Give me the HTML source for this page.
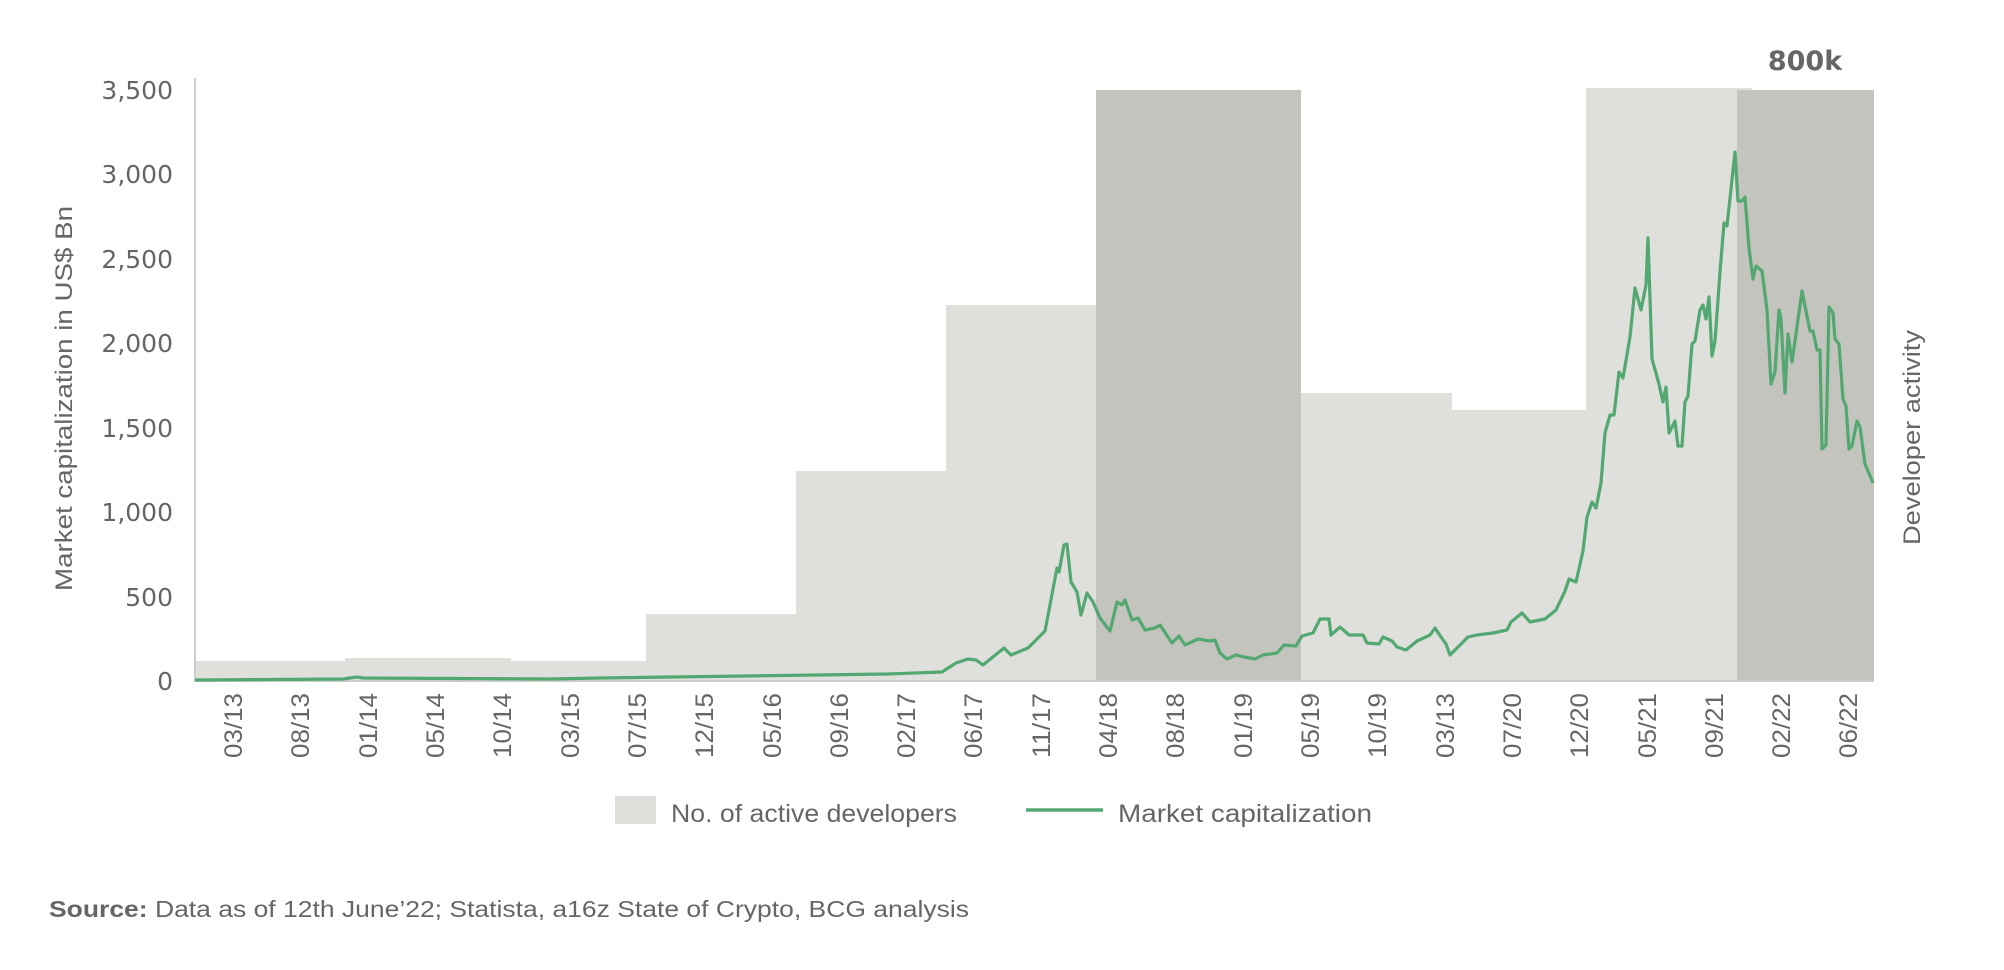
<!DOCTYPE html>
<html><head><meta charset="utf-8"><style>
html,body{margin:0;padding:0;background:#fff;}
svg{display:block;}
text{font-family:"Liberation Sans",sans-serif;fill:#666;}
</style></head><body>
<svg width="2004" height="970" viewBox="0 0 2004 970" xmlns="http://www.w3.org/2000/svg">
<g fill="#dfdfdc">
<rect x="195" y="661" width="150" height="20"/>
<rect x="345" y="658" width="166" height="23"/>
<rect x="511" y="661" width="135" height="20"/>
<rect x="646" y="614" width="150" height="67"/>
<rect x="796" y="471" width="150" height="210"/>
<rect x="946" y="305" width="150" height="376"/>
<rect x="1301" y="393" width="151" height="288"/>
<rect x="1452" y="410" width="134" height="271"/>
<rect x="1586" y="88" width="166" height="593"/>
</g>
<g fill="#c4c4bf">
<rect x="1096" y="90" width="205" height="591"/>
<rect x="1737" y="90" width="137" height="591"/>
</g>
<line x1="195" y1="78" x2="195" y2="682" stroke="#ccc" stroke-width="2"/>
<line x1="195" y1="681" x2="1874" y2="681" stroke="#ccc" stroke-width="2"/>
<polyline fill="none" stroke="#52a870" stroke-width="3.2" stroke-linejoin="round" points="
195,680 343,679 357,677 363,678 550,679 600,678 887,674 942,672 956,663 968,659 976,660 983,665 1004,648 1011,655 1028,648 1045,631 1057,568 1059,572 1064,545 1067,544 1071,582 1077,592 1081,615 1087,593 1093,602 1100,618 1110,631 1117,602 1122,605 1125,600 1132,620 1138,618 1145,630 1155,628 1160,625 1172,643 1179,636 1185,645 1198,639 1210,641 1215,640 1220,653 1227,659 1236,655 1244,657 1255,659 1263,655 1277,653 1284,645 1296,646 1302,636 1313,633 1320,619 1329,619 1331,635 1340,627 1349,635 1363,635 1367,643 1379,644 1383,637 1392,641 1397,647 1406,650 1417,641 1430,635 1435,628 1441,637 1446,644 1450,655 1455,650 1468,637 1477,635 1493,633 1507,630 1511,622 1522,613 1530,622 1545,619 1556,610 1565,591 1569,579 1576,582 1583,551 1587,517 1592,502 1596,508 1601,483 1605,433 1610,415 1614,415 1619,372 1623,378 1630,337 1635,288 1641,310 1646,285 1648,238 1652,359 1659,384 1663,402 1666,387 1669,433 1675,421 1678,446 1682,446 1685,402 1688,396 1692,344 1695,341 1700,310 1703,305 1706,319 1709,297 1712,356 1715,341 1720,272 1724,223 1727,226 1735,152 1738,201 1742,201 1745,197 1749,248 1753,279 1756,266 1762,271 1767,310 1771,384 1775,372 1779,310 1781,319 1785,393 1788,334 1792,362 1796,334 1802,291 1810,331 1813,331 1817,350 1820,350 1822,449 1826,445 1829,307 1833,313 1835,339 1839,344 1843,399 1846,406 1849,449 1852,446 1857,421 1860,427 1865,464 1873,483"/>
<g font-size="25" text-anchor="end">
<text x="173" y="99" style="font-family:'DejaVu Sans',sans-serif">3,500</text>
<text x="173" y="183" style="font-family:'DejaVu Sans',sans-serif">3,000</text>
<text x="173" y="268" style="font-family:'DejaVu Sans',sans-serif">2,500</text>
<text x="173" y="352" style="font-family:'DejaVu Sans',sans-serif">2,000</text>
<text x="173" y="437" style="font-family:'DejaVu Sans',sans-serif">1,500</text>
<text x="173" y="521" style="font-family:'DejaVu Sans',sans-serif">1,000</text>
<text x="173" y="606" style="font-family:'DejaVu Sans',sans-serif">500</text>
<text x="173" y="690" style="font-family:'DejaVu Sans',sans-serif">0</text>
</g>
<g font-size="25">
<text transform="translate(242,758) rotate(-90)" textLength="65" lengthAdjust="spacingAndGlyphs">03/13</text>
<text transform="translate(309,758) rotate(-90)" textLength="65" lengthAdjust="spacingAndGlyphs">08/13</text>
<text transform="translate(377,758) rotate(-90)" textLength="65" lengthAdjust="spacingAndGlyphs">01/14</text>
<text transform="translate(444,758) rotate(-90)" textLength="65" lengthAdjust="spacingAndGlyphs">05/14</text>
<text transform="translate(511,758) rotate(-90)" textLength="65" lengthAdjust="spacingAndGlyphs">10/14</text>
<text transform="translate(579,758) rotate(-90)" textLength="65" lengthAdjust="spacingAndGlyphs">03/15</text>
<text transform="translate(646,758) rotate(-90)" textLength="65" lengthAdjust="spacingAndGlyphs">07/15</text>
<text transform="translate(713,758) rotate(-90)" textLength="65" lengthAdjust="spacingAndGlyphs">12/15</text>
<text transform="translate(781,758) rotate(-90)" textLength="65" lengthAdjust="spacingAndGlyphs">05/16</text>
<text transform="translate(848,758) rotate(-90)" textLength="65" lengthAdjust="spacingAndGlyphs">09/16</text>
<text transform="translate(915,758) rotate(-90)" textLength="65" lengthAdjust="spacingAndGlyphs">02/17</text>
<text transform="translate(982,758) rotate(-90)" textLength="65" lengthAdjust="spacingAndGlyphs">06/17</text>
<text transform="translate(1050,758) rotate(-90)" textLength="65" lengthAdjust="spacingAndGlyphs">11/17</text>
<text transform="translate(1117,758) rotate(-90)" textLength="65" lengthAdjust="spacingAndGlyphs">04/18</text>
<text transform="translate(1184,758) rotate(-90)" textLength="65" lengthAdjust="spacingAndGlyphs">08/18</text>
<text transform="translate(1252,758) rotate(-90)" textLength="65" lengthAdjust="spacingAndGlyphs">01/19</text>
<text transform="translate(1319,758) rotate(-90)" textLength="65" lengthAdjust="spacingAndGlyphs">05/19</text>
<text transform="translate(1386,758) rotate(-90)" textLength="65" lengthAdjust="spacingAndGlyphs">10/19</text>
<text transform="translate(1454,758) rotate(-90)" textLength="65" lengthAdjust="spacingAndGlyphs">03/13</text>
<text transform="translate(1521,758) rotate(-90)" textLength="65" lengthAdjust="spacingAndGlyphs">07/20</text>
<text transform="translate(1588,758) rotate(-90)" textLength="65" lengthAdjust="spacingAndGlyphs">12/20</text>
<text transform="translate(1656,758) rotate(-90)" textLength="65" lengthAdjust="spacingAndGlyphs">05/21</text>
<text transform="translate(1723,758) rotate(-90)" textLength="65" lengthAdjust="spacingAndGlyphs">09/21</text>
<text transform="translate(1790,758) rotate(-90)" textLength="65" lengthAdjust="spacingAndGlyphs">02/22</text>
<text transform="translate(1857,758) rotate(-90)" textLength="65" lengthAdjust="spacingAndGlyphs">06/22</text>
</g>
<text transform="translate(72,591) rotate(-90)" font-size="24" textLength="385" lengthAdjust="spacingAndGlyphs">Market capitalization in US$ Bn</text>
<text transform="translate(1920,545) rotate(-90)" font-size="24" textLength="215" lengthAdjust="spacingAndGlyphs">Developer activity</text>
<text x="1805" y="70" font-size="27" font-weight="bold" text-anchor="middle" style="font-family:'DejaVu Sans',sans-serif">800k</text>
<rect x="615" y="796" width="41" height="28" fill="#dfdfdc"/>
<text x="671" y="822" font-size="25" textLength="286" lengthAdjust="spacingAndGlyphs">No. of active developers</text>
<line x1="1026" y1="810" x2="1103" y2="810" stroke="#52a870" stroke-width="3.5"/>
<text x="1118" y="822" font-size="25" textLength="254" lengthAdjust="spacingAndGlyphs">Market capitalization</text>
<text x="49" y="917" font-size="23" textLength="920" lengthAdjust="spacingAndGlyphs"><tspan font-weight="bold">Source:</tspan> Data as of 12th June’22; Statista, a16z State of Crypto, BCG analysis</text>
</svg>
</body></html>
